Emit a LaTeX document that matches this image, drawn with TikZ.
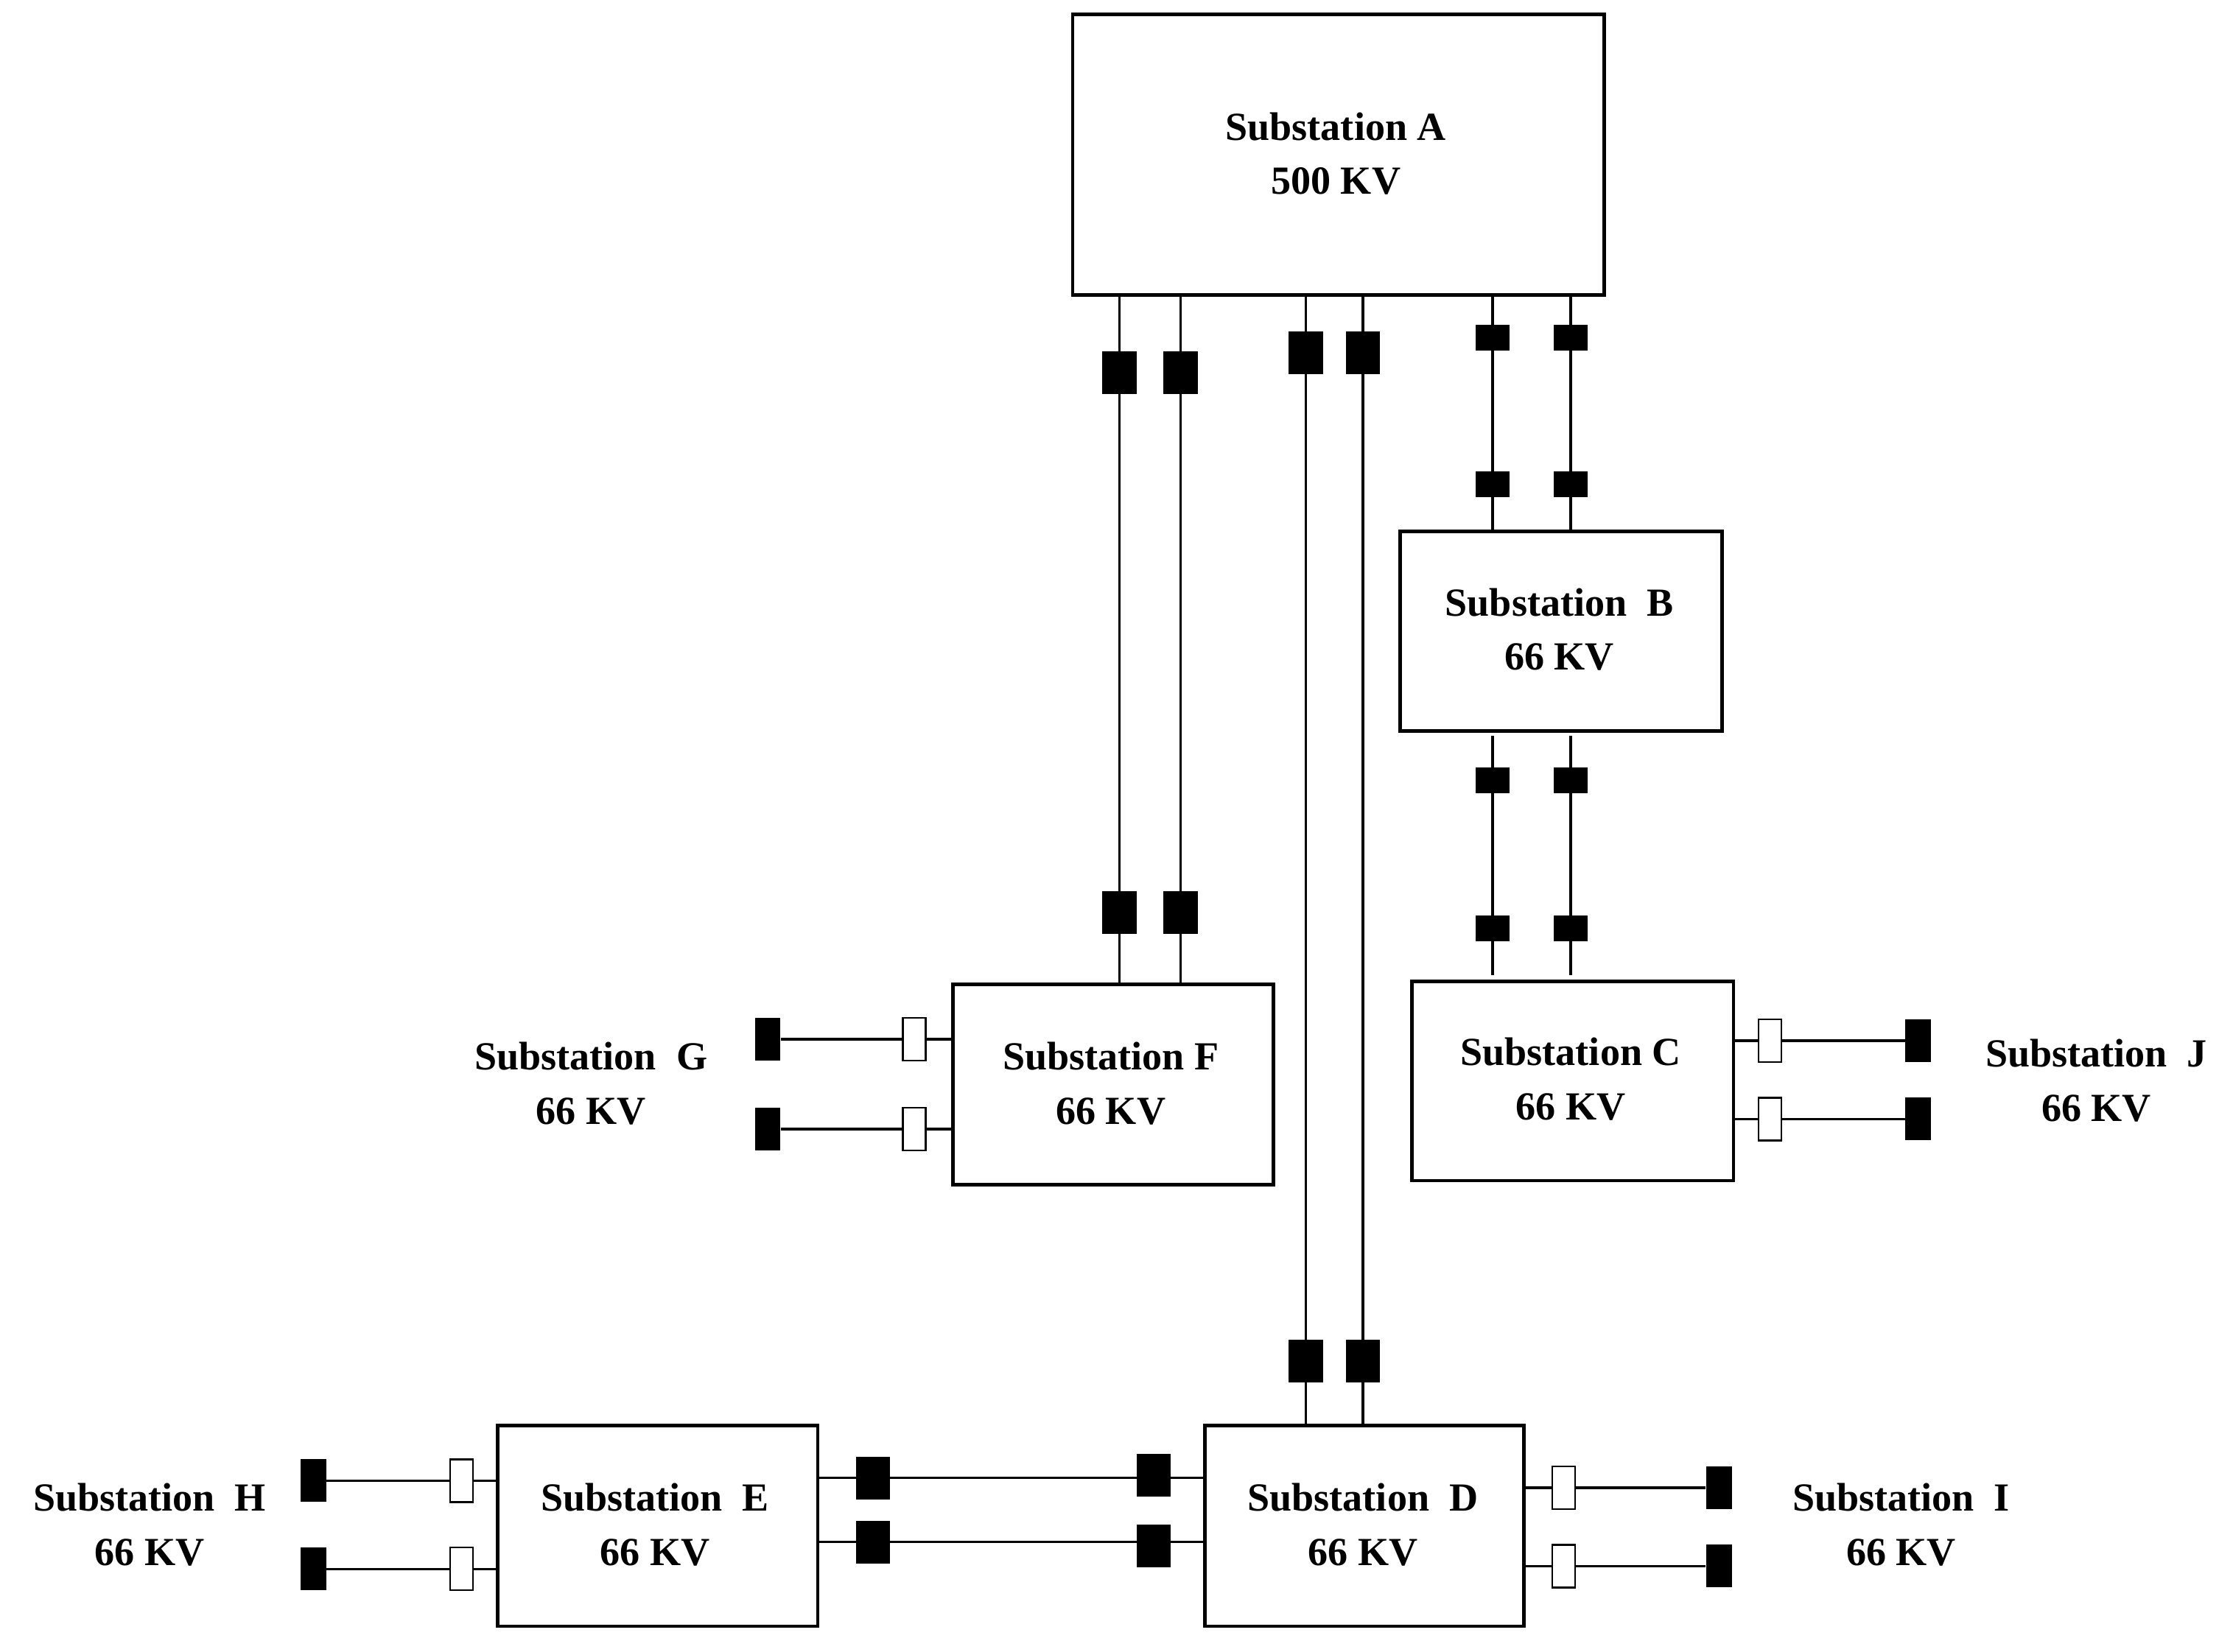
\documentclass[tikz,border=0pt]{standalone}
\usepackage{fontspec}
\setmainfont{Liberation Serif}
\begin{document}
\begin{tikzpicture}[x=1pt,y=-1pt,
  box/.style={draw, line width=2.5pt, inner sep=0, anchor=north west},
  lab/.style={align=center, font=\fontsize{28}{38}\selectfont\bfseries},
  bb/.style={fill=black, minimum width=24, minimum height=30, inner sep=0},
  sb/.style={fill=black, minimum width=24, minimum height=18, inner sep=0},
  vb/.style={fill=black, minimum width=18, minimum height=30, inner sep=0},
  wb/.style={draw, fill=white, line width=1.2pt, minimum width=16, minimum height=30, inner sep=0},
  ln/.style={line width=1.8pt}]
\useasboundingbox (0,0) rectangle (1568,1160);
% boxes
\node[box, minimum width=373, minimum height=197] (A) at (752,9) {};
\node[box, minimum width=226, minimum height=140] (B) at (982,372) {};
\node[box, minimum width=225, minimum height=141] (F) at (668,690) {};
\node[box, minimum width=226, minimum height=140] (C) at (990,688) {};
\node[box, minimum width=224, minimum height=141] (D) at (845,1000) {};
\node[box, minimum width=225, minimum height=141] (E) at (348,1000) {};
\node[lab] (tA) at (938,108) {Substation A\\500 KV};
\node[lab] (tB) at (1095,442) {Substation\ \ B\\66 KV};
\node[lab] (tF) at (780,761) {Substation F\\66 KV};
\node[lab] (tC) at (1103,758) {Substation C\\66 KV};
\node[lab] (tD) at (957,1071) {Substation\ \ D\\66 KV};
\node[lab] (tE) at (460,1071) {Substation\ \ E\\66 KV};
\node[lab] (tG) at (415,761) {Substation\ \ G\\66 KV};
\node[lab] (tJ) at (1472,759) {Substation\ \ J\\66 KV};
\node[lab] (tH) at (105,1071) {Substation\ \ H\\66 KV};
\node[lab] (tI) at (1335,1071) {Substation\ \ I\\66 KV};
% A-F
\coordinate (af1) at (786,0); \coordinate (af2) at (829,0);
\draw[ln] (A.south -| af1) -- (F.north -| af1);
\draw[ln] (A.south -| af2) -- (F.north -| af2);
\node[bb] (af1a) at (786,262) {}; \node[bb] (af2a) at (829,262) {};
\node[bb] (af1b) at (786,641) {}; \node[bb] (af2b) at (829,641) {};
% A-D
\coordinate (ad1) at (917,0); \coordinate (ad2) at (957,0);
\draw[ln] (A.south -| ad1) -- (D.north -| ad1);
\draw[ln] (A.south -| ad2) -- (D.north -| ad2);
\node[bb] (ad1a) at (917,248) {}; \node[bb] (ad2a) at (957,248) {};
\node[bb] (ad1b) at (917,956) {}; \node[bb] (ad2b) at (957,956) {};
% A-B
\coordinate (ab1) at (1048,0); \coordinate (ab2) at (1103,0);
\draw[ln] (A.south -| ab1) -- (B.north -| ab1);
\draw[ln] (A.south -| ab2) -- (B.north -| ab2);
\node[sb] (ab1a) at (1048,237) {}; \node[sb] (ab2a) at (1103,237) {};
\node[sb] (ab1b) at (1048,340) {}; \node[sb] (ab2b) at (1103,340) {};
% B-C
\coordinate (bc1) at (1048,517); \coordinate (bc2) at (1103,517);
\coordinate (bc1e) at (1048,685); \coordinate (bc2e) at (1103,685);
\draw[ln] (bc1) -- (bc1e); \draw[ln] (bc2) -- (bc2e);
\node[sb] (bc1a) at (1048,548) {}; \node[sb] (bc2a) at (1103,548) {};
\node[sb] (bc1b) at (1048,652) {}; \node[sb] (bc2b) at (1103,652) {};
% F-G
\node[vb] (g1) at (539,730) {}; \node[vb] (g2) at (539,793) {};
\draw[ln] (g1) -- (g1 -| F.west); \draw[ln] (g2) -- (g2 -| F.west);
\node[wb] (fg1) at (642,730) {}; \node[wb] (fg2) at (642,793) {};
% C-J
\node[vb] (j1) at (1347,731) {}; \node[vb] (j2) at (1347,786) {};
\draw[ln] (j1) -- (j1 -| C.east); \draw[ln] (j2) -- (j2 -| C.east);
\node[wb] (cj1) at (1243,731) {}; \node[wb] (cj2) at (1243,786) {};
% E-H
\node[vb] (h1) at (220,1040) {}; \node[vb] (h2) at (220,1102) {};
\draw[ln] (h1) -- (h1 -| E.west); \draw[ln] (h2) -- (h2 -| E.west);
\node[wb] (eh1) at (324,1040) {}; \node[wb] (eh2) at (324,1102) {};
% D-I
\node[vb] (i1) at (1207,1045) {}; \node[vb] (i2) at (1207,1100) {};
\draw[ln] (i1) -- (i1 -| D.east); \draw[ln] (i2) -- (i2 -| D.east);
\node[wb] (di1) at (1098,1045) {}; \node[wb] (di2) at (1098,1100) {};
% E-D
\coordinate (ed1) at (0,1038); \coordinate (ed2) at (0,1083);
\draw[ln] (E.east |- ed1) -- (D.west |- ed1);
\draw[ln] (E.east |- ed2) -- (D.west |- ed2);
\node[bb] (ed1a) at (613,1038) {}; \node[bb] (ed2a) at (613,1083) {};
\node[bb] (ed1b) at (810,1036) {}; \node[bb] (ed2b) at (810,1086) {};
\end{tikzpicture}
\end{document}
